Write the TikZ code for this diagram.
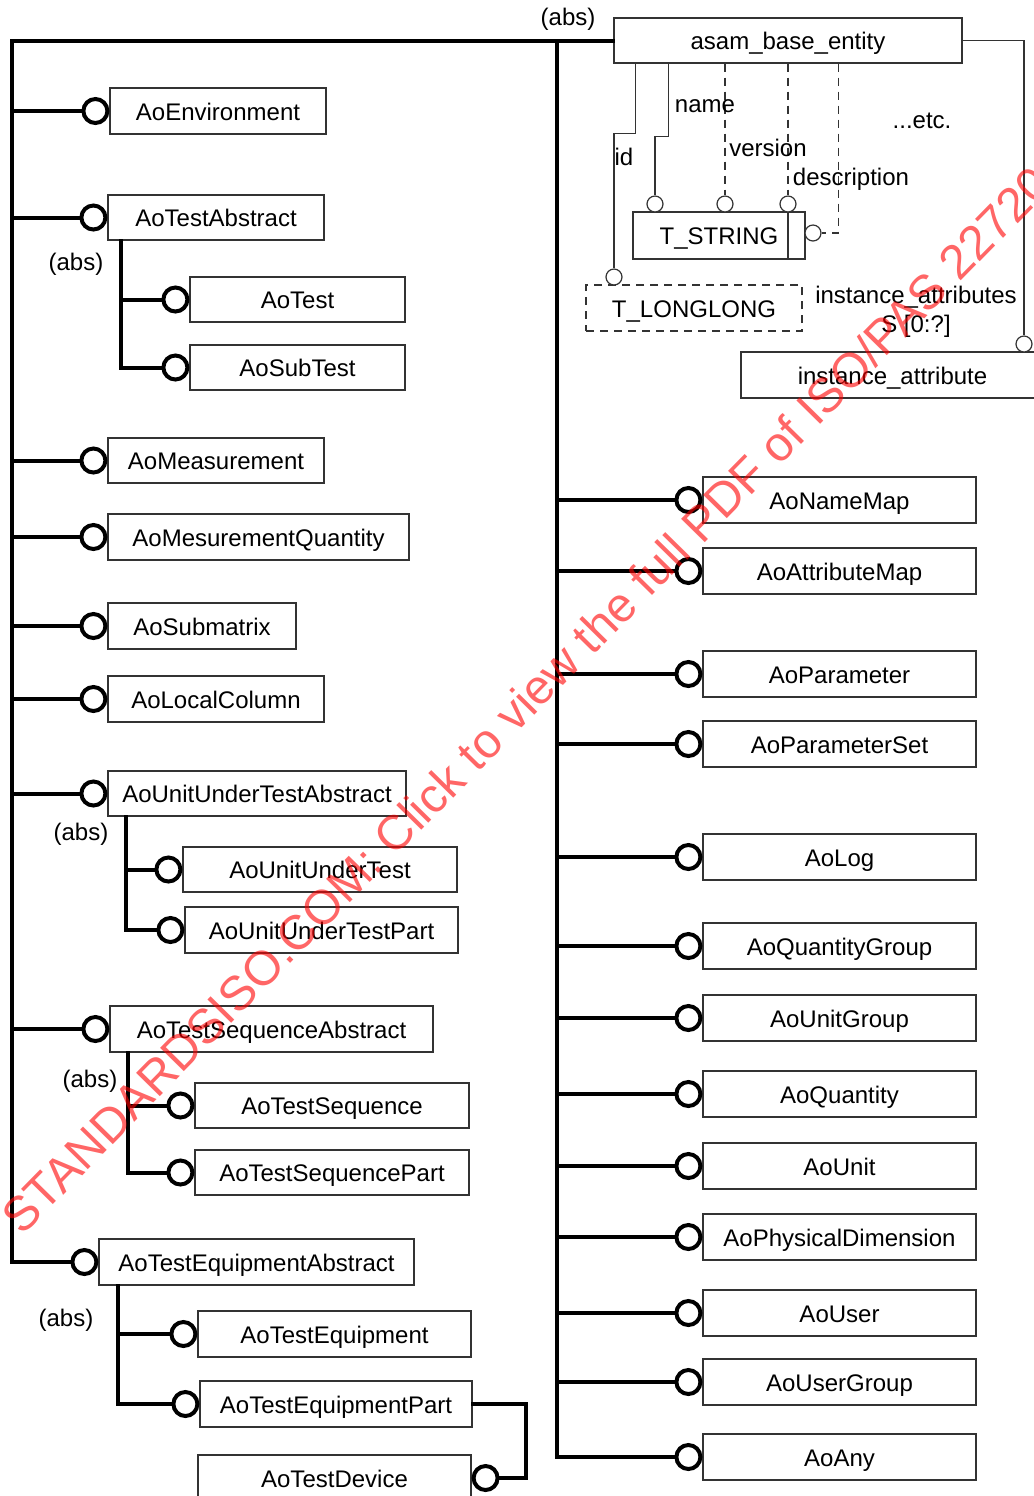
\documentclass[tikz,border=0pt]{standalone}
\usepackage{fontspec}
\setmainfont{Liberation Sans}
\newcommand{\aoL}[7]{%
  \node[obox, minimum width={(#4-#2)*0.5pt}, minimum height={(#5-#3)*0.5pt}] (#1) at ({(#2+#4)/2},{(#3+#5)/2}) {#6};
  \node[ring, anchor=east] (#1c) at (#1.west) {};
  \draw[thk] (#1c.west) -- (#1c.west -| #7);
}
\begin{document}
\begin{tikzpicture}[x=0.5pt,y=-0.5pt,
  obox/.style={draw=black!80, line width=0.6pt, fill=white, inner sep=0pt,
    font=\fontsize{12}{14}\selectfont, text height=9pt, text depth=0pt},
  ring/.style={circle, draw=black, line width=2pt, fill=white, minimum size=12pt, inner sep=0pt, outer sep=1pt},
  sring/.style={circle, draw=black!80, line width=0.6pt, fill=white, minimum size=8pt, inner sep=0pt, outer sep=0.3pt},
  thk/.style={line width=2pt, line cap=rect},
  thn/.style={draw=black!80, line width=0.6pt},
  dsh/.style={thn, dash pattern=on 4pt off 3pt},
  lbl/.style={font=\fontsize{12}{14}\selectfont, inner sep=0pt, anchor=base}]
\useasboundingbox (0,0) rectangle (1034,1496);

% trunk coordinates
\coordinate (ltop) at (12,0);
\coordinate (rtr) at (557,0);

% base entity
\node[obox, minimum width=174pt, minimum height=22.5pt] (asam) at (788,40.5) {asam\_base\_entity};
\node[lbl] (absTop) at (568,25) {(abs)};

% left items
\aoL{Env}{110}{88}{326}{134}{AoEnvironment}{ltop}
\aoL{TA}{108}{195}{324}{240}{AoTestAbstract}{ltop}
\coordinate (taS) at ([xshift=7pt]TA.south west);
\aoL{Test}{190}{277}{405}{322}{AoTest}{taS}
\aoL{SubTest}{190}{345}{405}{390}{AoSubTest}{taS}
\draw[thk] (taS) |- (SubTestc.west);
\node[lbl] (abs1) at (76,270) {(abs)};

\aoL{Meas}{108}{438}{324}{483}{AoMeasurement}{ltop}
\aoL{MQ}{108}{514}{409}{560}{AoMesurementQuantity}{ltop}
\aoL{Subm}{108}{603}{296}{649}{AoSubmatrix}{ltop}
\aoL{LC}{108}{676}{324}{722}{AoLocalColumn}{ltop}

\aoL{UUTA}{108}{771}{406}{816}{AoUnitUnderTestAbstract}{ltop}
\coordinate (uutS) at ([xshift=9.5pt]UUTA.south west);
\aoL{UUT}{183}{847}{457}{892}{AoUnitUnderTest}{uutS}
\aoL{UUTP}{185}{907}{458}{953}{AoUnitUnderTestPart}{uutS}
\draw[thk] (uutS) |- (UUTPc.west);
\node[lbl] (abs2) at (81,840) {(abs)};

\aoL{TSA}{110}{1006}{433}{1052}{AoTestSequenceAbstract}{ltop}
\coordinate (tsaS) at ([xshift=9.5pt]TSA.south west);
\aoL{TSeq}{195}{1083}{469}{1128}{AoTestSequence}{tsaS}
\aoL{TSP}{195}{1150}{469}{1195}{AoTestSequencePart}{tsaS}
\draw[thk] (tsaS) |- (TSPc.west);
\node[lbl] (abs3) at (90,1087) {(abs)};

\node[obox, minimum width=157.5pt, minimum height=23pt] (TEA) at (256.5,1262) {AoTestEquipmentAbstract};
\node[ring, anchor=east] (TEAc) at (TEA.west) {};
\coordinate (teaS) at ([xshift=10pt]TEA.south west);
\aoL{TE}{198}{1311}{471}{1357}{AoTestEquipment}{teaS}
\aoL{TEP}{200}{1381}{472}{1427}{AoTestEquipmentPart}{teaS}
\draw[thk] (teaS) |- (TEPc.west);
\node[lbl] (abs4) at (66,1326) {(abs)};
\node[obox, minimum width=136.5pt, minimum height=23pt] (TD) at (334.5,1478) {AoTestDevice};
\node[ring, anchor=west] (TDc) at (TD.east) {};
\draw[thk] (TEP.east) -- ++(53,0) |- (TDc.east);

% main left trunk
\draw[thk] (asam.west) -- (asam.west -| ltop) |- (TEAc.west);

% right items
\aoL{NM}{703}{477}{976}{523}{AoNameMap}{rtr}
\aoL{AM}{703}{548}{976}{594}{AoAttributeMap}{rtr}
\aoL{Par}{703}{651}{976}{697}{AoParameter}{rtr}
\aoL{PS}{703}{721}{976}{767}{AoParameterSet}{rtr}
\aoL{Log}{703}{834}{976}{880}{AoLog}{rtr}
\aoL{QG}{703}{923}{976}{969}{AoQuantityGroup}{rtr}
\aoL{UG}{703}{995}{976}{1041}{AoUnitGroup}{rtr}
\aoL{Qu}{703}{1071}{976}{1117}{AoQuantity}{rtr}
\aoL{Un}{703}{1143}{976}{1189}{AoUnit}{rtr}
\aoL{PD}{703}{1214}{976}{1260}{AoPhysicalDimension}{rtr}
\aoL{Us}{703}{1290}{976}{1336}{AoUser}{rtr}
\aoL{UsG}{703}{1359}{976}{1405}{AoUserGroup}{rtr}
\aoL{Any}{703}{1434}{976}{1480}{AoAny}{rtr}
\draw[thk] (asam.west -| rtr) -- (rtr |- Anyc.west);

% attribute types
\node[obox, minimum width=86pt, minimum height=23.5pt] (tstr) at (719,235.5) {T\_STRING};
\node[obox, dash pattern=on 4pt off 3pt, minimum width=108pt, minimum height=23pt] (tll) at (694,308) {T\_LONGLONG};
\node[obox, minimum width=151.5pt, minimum height=23pt] (ia) at (892.5,375) {instance\_attribute};

\node[sring] (idc) at (614,277) {};
\node[sring] (namec) at (655,204) {};
\node[sring] (verc) at (725,204) {};
\node[sring] (descc) at (788,204) {};
\node[sring] (etcc) at (813,233) {};
\node[sring] (iac) at (1024,344) {};

\draw[thn] ([xshift=11pt]asam.south west) -- ++(0,70) -| (idc.north);
\draw[thn] ([xshift=27.5pt]asam.south west) -- ++(0,73) -| (namec.north);
\draw[dsh] (asam.south -| verc) -- (verc.north);
\draw[dsh] (asam.south -| descc) -- (descc.north);
\draw[thn] (descc.south) -- (descc.south |- tstr.south);
\draw[dsh] ([xshift=112.5pt]asam.south west) |- (etcc.east);
\draw[thn] (asam.east) -| (iac.north);

\node[lbl] (lname) at (705,112) {name};
\node[lbl] (lid) at (624,165) {id};
\node[lbl] (lver) at (768,156) {version};
\node[lbl] (ldesc) at (851,185) {description};
\node[lbl] (letc) at (922,128) {...etc.};
\node[lbl] (lia) at (916,303) {instance\_attributes};
\node[lbl] (lS) at (916,332) {S [0:?]};

% watermark
\node[rotate=45.5, anchor=base west, inner sep=0pt, text=red, text opacity=0.6,
  font=\fontsize{24.2}{28}\selectfont] (wm) at (22,1237)
  {STANDARDSISO.COM: Click to view the full PDF of ISO/PAS 22720};
\end{tikzpicture}
\end{document}
